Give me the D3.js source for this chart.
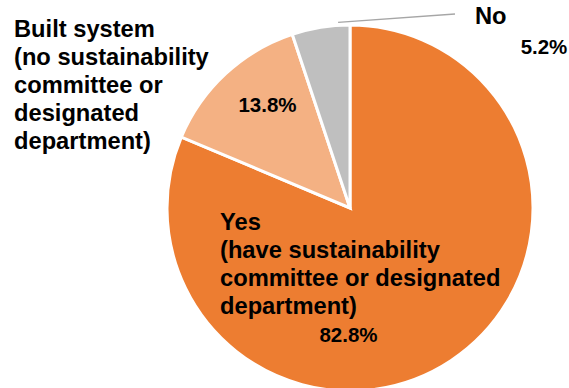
<!DOCTYPE html>
<html>
<head>
<meta charset="utf-8">
<script src="https://cdn.jsdelivr.net/npm/d3@7"></script>
<style>
  html, body { margin: 0; padding: 0; background: #fff; }
  svg { display: block; }
  text { font-family: "Liberation Sans", Arial, sans-serif; font-weight: bold; fill: #000; }
</style>
</head>
<body>
<svg id="chart" width="569" height="388"></svg>
<script>
// Survey answers, clockwise from 12 o'clock
const categories = ["Yes", "Built system", "No"];
const values = [82.8, 13.8, 5.2];
const categoryLines = [
  ["Yes", "(have sustainability", "committee or designated", "department)"],
  ["Built system", "(no sustainability", "committee or", "designated", "department)"],
  ["No"]
];
const colors = ["#ED7D31", "#F4B183", "#BFBFBF"];

const svg = d3.select("#chart");
const cx = 350, cy = 208, r = 183;

const pie = d3.pie().sort(null).value(d => d.value);
const arc = d3.arc().innerRadius(0).outerRadius(r);

const data = categories.map((c, i) => ({ name: c, value: values[i], lines: categoryLines[i], color: colors[i] }));
const arcs = pie(data);

const g = svg.append("g").attr("transform", `translate(${cx},${cy})`);

g.selectAll("path.slice")
  .data(arcs)
  .join("path")
  .attr("class", "slice")
  .attr("d", arc)
  .attr("fill", d => d.data.color)
  .attr("stroke", "#fff")
  .attr("stroke-width", 3)
  .attr("stroke-linejoin", "miter");

const fmt = v => v.toFixed(1) + "%";
const lineH = 28;

// Multi-line category labels: x and first baseline
const catPos = [
  [220 - cx, 229.5 - cy],
  [14 - cx, 36.5 - cy],
  [475 - cx, 24 - cy]
];
const pctPos = [
  [348.5 - cx, 341.5 - cy],
  [267.5 - cx, 111.5 - cy],
  [544 - cx, 53.5 - cy]
];

arcs.forEach((a, i) => {
  const t = g.append("text")
    .attr("x", catPos[i][0])
    .attr("y", catPos[i][1])
    .attr("font-size", "23.7px");
  a.data.lines.forEach((ln, j) => {
    t.append("tspan")
      .attr("x", catPos[i][0])
      .attr("dy", j === 0 ? 0 : lineH)
      .text(ln);
  });
  g.append("text")
    .attr("x", pctPos[i][0])
    .attr("y", pctPos[i][1])
    .attr("text-anchor", "middle")
    .attr("font-size", "20.5px")
    .text(fmt(a.data.value));
});

// Leader line from just above the small slice out to its label
const small = arcs[2];
const ang = small.startAngle + 0.8 * (small.endAngle - small.startAngle);
const lx0 = Math.sin(ang) * (r + 3);
const ly0 = -Math.cos(ang) * (r + 3);
g.append("line")
  .attr("x1", lx0)
  .attr("y1", ly0)
  .attr("x2", 455 - cx)
  .attr("y2", 14 - cy)
  .attr("stroke", "#A6A6A6")
  .attr("stroke-width", 1.3);
</script>
</body>
</html>
